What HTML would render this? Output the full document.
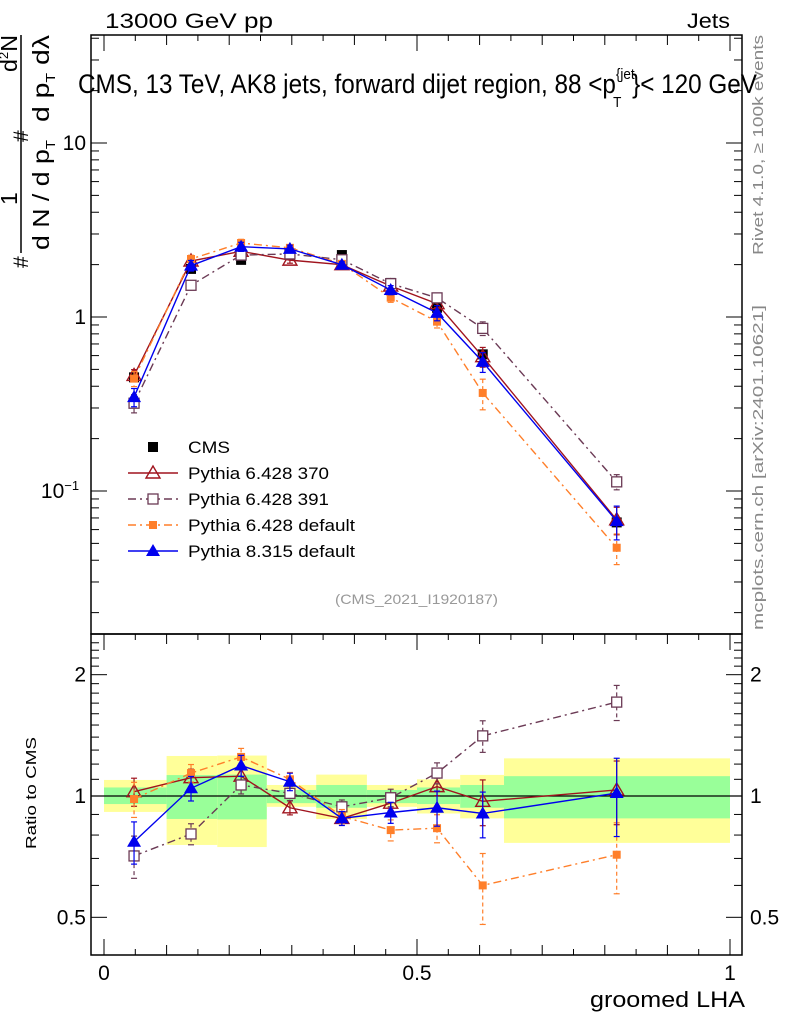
<!DOCTYPE html>
<html><head><meta charset="utf-8">
<style>
body{margin:0;background:#fff;}
svg{display:block;font-family:"Liberation Sans",Arial,sans-serif;}
</style></head>
<body>
<svg id="chart" width="786" height="1024" viewBox="0 0 786 1024" xmlns="http://www.w3.org/2000/svg">
<g id="bands"></g>
<g id="axes"></g>
<g id="series"></g>
<text x="105" y="28" font-size="21" textLength="168" lengthAdjust="spacingAndGlyphs">13000 GeV pp</text>
<text x="687" y="28" font-size="21" textLength="43" lengthAdjust="spacingAndGlyphs">Jets</text>
<text x="78" y="93" font-size="27" textLength="679" lengthAdjust="spacingAndGlyphs">CMS, 13 TeV, AK8 jets, forward dijet region, 88 &lt;p<tspan font-size="15" dy="-14">{jet</tspan><tspan font-size="15" dx="-24" dy="28">T</tspan><tspan dy="-14" dx="12">}&lt; 120 GeV</tspan></text>
<text x="335" y="604" font-size="14" fill="#999" textLength="163" lengthAdjust="spacingAndGlyphs">(CMS_2021_I1920187)</text>
<text transform="translate(763,255) rotate(-90)" font-size="15" fill="#888" textLength="220" lengthAdjust="spacingAndGlyphs">Rivet 4.1.0, ≥ 100k events</text>
<text transform="translate(763,630) rotate(-90)" font-size="15" fill="#888" textLength="325" lengthAdjust="spacingAndGlyphs">mcplots.cern.ch [arXiv:2401.10621]</text>
<g font-size="23">
<line x1="21" y1="35" x2="21" y2="253" stroke="#000" stroke-width="1.5"/>
<text transform="translate(17,72) rotate(-90)" textLength="37" lengthAdjust="spacingAndGlyphs">d<tspan font-size="13" dy="-9">2</tspan><tspan dy="9">N</tspan></text>
<text transform="translate(28,142) rotate(-90)" font-size="21">#</text>
<text transform="translate(17,205) rotate(-90)">1</text>
<text transform="translate(28,268) rotate(-90)" font-size="21">#</text>
<text transform="translate(49,122) rotate(-90)" textLength="87" lengthAdjust="spacingAndGlyphs">d p<tspan font-size="13" dy="6">T</tspan><tspan dy="-6"> d</tspan>λ</text>
<text transform="translate(49,250) rotate(-90)" textLength="110" lengthAdjust="spacingAndGlyphs">d N / d p<tspan font-size="13" dy="6">T</tspan></text>
</g>
<text transform="translate(36,849) rotate(-90)" font-size="15" textLength="112" lengthAdjust="spacingAndGlyphs">Ratio to CMS</text>
<text x="590" y="1007" font-size="22" textLength="155" lengthAdjust="spacingAndGlyphs">groomed LHA</text>
<g id="legend"></g>
</svg>
<script>
const xs = [0.048,0.139,0.219,0.297,0.380,0.458,0.532,0.605,0.819];
const binEdges = [0,0.1,0.181,0.26,0.339,0.42,0.5,0.569,0.639,1.0];
const cmsVals = [0.45,1.89,2.13,2.27,2.27,1.57,1.13,0.61,0.066];
const bandYellowHi = [1.096,1.257,1.26,1.065,1.13,1.065,1.10,1.128,1.24];
const bandYellowLo = [0.913,0.756,0.747,0.94,0.877,0.94,0.905,0.88,0.765];
const bandGreenHi = [1.05,1.127,1.13,1.035,1.065,1.035,1.05,1.065,1.12];
const bandGreenLo = [0.955,0.877,0.875,0.96,0.935,0.96,0.955,0.935,0.88];
const ratio370 = [1.025,1.11,1.12,0.935,0.88,0.96,1.055,0.97,1.035];
const ratio391 = [0.71,0.805,1.065,1.015,0.94,0.99,1.14,1.41,1.71];
const ratioP6def = [0.983,1.14,1.25,1.10,0.89,0.823,0.832,0.60,0.715];
const ratioP8 = [0.77,1.045,1.19,1.085,0.88,0.91,0.935,0.905,1.017];
const relErr370 = [0.08,0.05,0.05,0.04,0.03,0.04,0.05,0.13,0.18];
const relErr391 = [0.12,0.06,0.05,0.04,0.04,0.05,0.06,0.09,0.1];
const relErrP6 = [0.1,0.05,0.05,0.04,0.04,0.06,0.08,0.2,0.2];
const relErrP8 = [0.12,0.07,0.06,0.05,0.04,0.06,0.1,0.13,0.22];
const mainTicks = ["10","1"];

const NS="http://www.w3.org/2000/svg";
const X0=104,X1=730, L=91, R=742, MT=35, MB=634, RT=634, RB=955;
function px(v){return X0+(X1-X0)*v;}
function pyMain(v){return 317-174*Math.log10(v);}
function pyRatio(v){return 796-403*Math.log10(v);}
function mk(tag,attrs,parent){const e=document.createElementNS(NS,tag);for(const k in attrs)e.setAttribute(k,attrs[k]);parent.appendChild(e);return e;}
const axes=document.getElementById('axes'), bands=document.getElementById('bands'), series=document.getElementById('series'), legend=document.getElementById('legend');

for(let i=0;i<binEdges.length-1;i++){
  const y=mk('rect',{x:px(binEdges[i]),y:pyRatio(bandYellowHi[i]),width:px(binEdges[i+1])-px(binEdges[i]),height:pyRatio(bandYellowLo[i])-pyRatio(bandYellowHi[i]),fill:'#ffff99'},bands);
  
  
  const g=mk('rect',{x:px(binEdges[i]),y:pyRatio(bandGreenHi[i]),width:px(binEdges[i+1])-px(binEdges[i]),height:pyRatio(bandGreenLo[i])-pyRatio(bandGreenHi[i]),fill:'#99ff99'},bands);
  
  
}
mk('rect',{x:L,y:MT,width:R-L,height:MB-MT,fill:'none',stroke:'#000','stroke-width':1.5},axes);
mk('rect',{x:L,y:RT,width:R-L,height:RB-RT,fill:'none',stroke:'#000','stroke-width':1.5},axes);
mk('line',{x1:L,x2:R,y1:pyRatio(1),y2:pyRatio(1),stroke:'#000','stroke-width':1.2},axes);
for(let k=0;k<=20;k++){
  const v=k*0.05, x=px(v), len=(k%10==0)?16:(k%2==0?10:6);
  [[MT,1],[RT,1],[RB,-1]].forEach(([y0,d])=>mk('line',{x1:x,x2:x,y1:y0,y2:y0+d*len,stroke:'#000','stroke-width':1},axes));
}
[["0",0],["0.5",0.5],["1",1]].forEach(([t,v])=>{const e=mk('text',{x:px(v),y:980,'font-size':21,'text-anchor':'middle'},axes);e.textContent=t;});
for(let d=-2;d<=1;d++){for(let m=1;m<=9;m++){const v=m*Math.pow(10,d);const y=pyMain(v);if(y<MT||y>MB)continue;const len=m==1?16:8;
 mk('line',{x1:L,x2:L+len,y1:y,y2:y,stroke:'#000'},axes);mk('line',{x1:R,x2:R-len,y1:y,y2:y,stroke:'#000'},axes);}}
let e=mk('text',{x:86,y:pyMain(10)+7,'font-size':21,'text-anchor':'end'},axes);e.textContent=mainTicks[0];
e=mk('text',{x:86,y:pyMain(1)+7,'font-size':21,'text-anchor':'end'},axes);e.textContent=mainTicks[1];
e=mk('text',{x:60,y:pyMain(0.1)+7,'font-size':21,'text-anchor':'middle'},axes);e.innerHTML='10<tspan font-size="13" dy="-8">−1</tspan>';
[0.4,0.5,0.6,0.7,0.8,0.9,1,1.1,1.2,1.3,1.4,1.5,1.6,1.7,1.8,1.9,2,2.1,2.2,2.3,2.4].forEach(v=>{const y=pyRatio(v);if(y<RT||y>RB)return;const major=(v==0.5||v==1||v==2);const len=major?16:8;
 mk('line',{x1:L,x2:L+len,y1:y,y2:y,stroke:'#000'},axes);mk('line',{x1:R,x2:R-len,y1:y,y2:y,stroke:'#000'},axes);});
[["2",2],["1",1],["0.5",0.5]].forEach(([t,v])=>{let a=mk('text',{x:86,y:pyRatio(v)+7,'font-size':21,'text-anchor':'end'},axes);a.textContent=t;
 let b=mk('text',{x:750,y:pyRatio(v)+7,'font-size':21},axes);b.textContent=t;});

function marker(parent,type,color,x,y){
  if(type=='sqf') return mk('rect',{x:x-5,y:y-5,width:10,height:10,fill:color},parent);
  if(type=='sqs') return mk('rect',{x:x-4,y:y-4,width:8,height:8,fill:color},parent);
  if(type=='sqo') return mk('rect',{x:x-5,y:y-5,width:10,height:10,fill:'#fff',stroke:color,'stroke-width':1.3},parent);
  if(type=='tro') return mk('polygon',{points:`${x},${y-7} ${x-7},${y+5} ${x+7},${y+5}`,fill:'#fff','fill-opacity':0,stroke:color,'stroke-width':1.4},parent);
  if(type=='trf') return mk('polygon',{points:`${x},${y-7} ${x-7},${y+5} ${x+7},${y+5}`,fill:color},parent);
}
const defs=[
 {name:'pythia-6428-370',label:'Pythia 6.428 370',tl:141,color:'#a0141e',ratio:ratio370,err:relErr370,m:'tro',dash:''},
 {name:'pythia-6428-391',label:'Pythia 6.428 391',tl:141,color:'#6b3a55',ratio:ratio391,err:relErr391,m:'sqo',dash:'8,4,2,4'},
 {name:'pythia-6428-default',label:'Pythia 6.428 default',tl:167,color:'#ff7f2a',ratio:ratioP6def,err:relErrP6,m:'sqs',dash:'8,4,2,4'},
 {name:'pythia-8315-default',label:'Pythia 8.315 default',tl:167,color:'#0000ee',ratio:ratioP8,err:relErrP8,m:'trf',dash:''}
];
const cg=mk('g',{},series);


xs.forEach((x,i)=>{const p=marker(cg,'sqf','#000',px(x),pyMain(cmsVals[i]));
 
 });
defs.forEach(s=>{
  [[pyMain,(i)=>cmsVals[i]*s.ratio[i]],[pyRatio,(i)=>s.ratio[i]]].forEach(([fy,val])=>{
    const g=mk('g',{},series);
    
    
    const pts=xs.map((x,i)=>px(x)+','+fy(val(i))).join(' ');
    const attrs={points:pts,fill:'none',stroke:s.color,'stroke-width':1.4};
    if(s.dash)attrs['stroke-dasharray']=s.dash;
    mk('polyline',attrs,g);
    xs.forEach((x,i)=>{const v=val(i),X=px(x);
      const y1=fy(v*(1+s.err[i])),y2=fy(v*(1-s.err[i]));
      const ea={x1:X,x2:X,y1:y1,y2:y2,stroke:s.color,'stroke-width':1.2};if(s.dash)ea['stroke-dasharray']='4,3';
      mk('line',ea,g);
      mk('line',{x1:X-3,x2:X+3,y1:y1,y2:y1,stroke:s.color,'stroke-width':1.2},g);
      mk('line',{x1:X-3,x2:X+3,y1:y2,y2:y2,stroke:s.color,'stroke-width':1.2},g);
      const p=marker(g,s.m,s.color,X,fy(v));
      
      
    });
  });
});
const ly=[447,473,499,525,551];
let le=mk('g',{},legend);


marker(le,'sqf','#000',153,ly[0]);
let t=mk('text',{x:188,y:ly[0]+6,'font-size':17,textLength:42,lengthAdjust:'spacingAndGlyphs'},le);t.textContent='CMS';
defs.forEach((s,i)=>{const g=mk('g',{},legend);
 
 
 const a={x1:128,x2:178,y1:ly[i+1],y2:ly[i+1],stroke:s.color,'stroke-width':1.4};if(s.dash)a['stroke-dasharray']=s.dash;
 mk('line',a,g);marker(g,s.m,s.color,153,ly[i+1]);
 const tt=mk('text',{x:188,y:ly[i+1]+6,'font-size':17,textLength:s.tl,lengthAdjust:'spacingAndGlyphs'},g);tt.textContent=s.label;});
</script>
</body></html>
